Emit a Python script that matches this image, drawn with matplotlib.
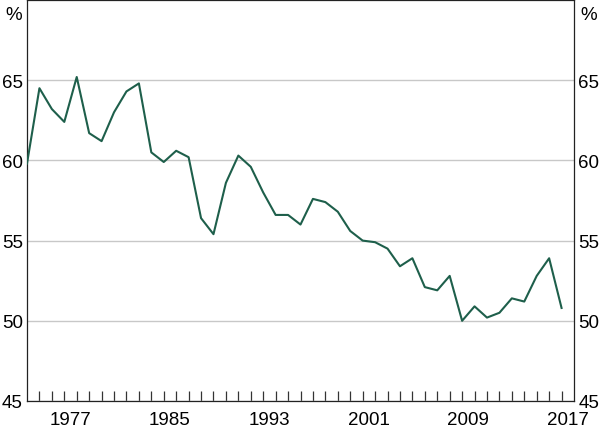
import numpy as np
import matplotlib
matplotlib.use('Agg')
import matplotlib.pyplot as plt

# yearly share
years = list(range(1974, 2018))
share = [59.8, 64.5, 63.2, 62.4, 65.2, 61.7, 61.2, 63.0, 64.3, 64.8,
         60.5, 59.9, 60.6, 60.2, 56.4, 55.4, 58.6, 60.3, 59.6, 58.0,
         56.6, 56.6, 56.0, 57.6, 57.4, 56.8, 55.6, 55.0, 54.9, 54.5,
         53.4, 53.9, 52.1, 51.9, 52.8, 50.0, 50.9, 50.2, 50.5, 51.4,
         51.2, 52.8, 53.9, 50.8]

label_years = [1977, 1985, 1993, 2001, 2009, 2017]
y_ticks = [45, 50, 55, 60, 65]

plt.rcParams['font.family'] = ['Liberation Sans', 'DejaVu Sans']
plt.rcParams['font.size'] = 13.5

fig = plt.figure(figsize=(6, 4.31), dpi=100)
ax = fig.add_axes([27/600, 1 - 402/431, (574-27)/600, 401/431])

ax.plot(years, share, color='#1e5f4b', lw=1.5, zorder=3)

ax.set_xlim(1974, 2018)
ax.set_ylim(45, 70)

# y axis: labels both sides, gridlines
ax.set_yticks(y_ticks)
ax.yaxis.grid(True, color='#c8c8c8', lw=1.0)
ax.tick_params(axis='y', length=0, pad=3, left=True, right=True,
               labelleft=True, labelright=True)

# x axis: year ticks inside, labels centred in the year
ax.set_xticks([y + 0.5 for y in label_years])
ax.set_xticklabels([str(y) for y in label_years])
ax.set_xticks(range(1975, 2018), minor=True)
ax.tick_params(axis='x', which='major', length=0, pad=7.5)
ax.tick_params(axis='x', which='minor', direction='in', length=7,
               width=0.9, color='#333333')

for s in ax.spines.values():
    s.set_linewidth(0.9)
    s.set_color('#222222')

ax.text(-0.025, 0.985, '%', transform=ax.transAxes, ha='center', va='top')
ax.text(1.027, 0.985, '%', transform=ax.transAxes, ha='center', va='top')

fig.savefig('out.png', dpi=100)
